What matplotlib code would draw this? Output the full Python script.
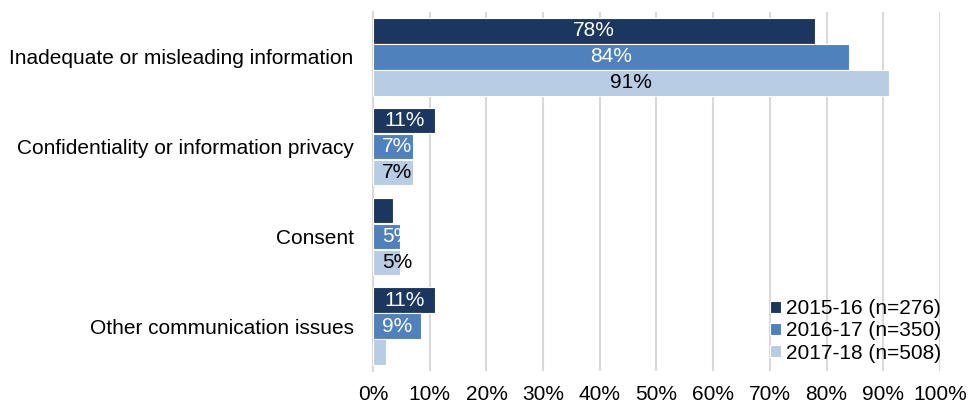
import numpy as np
import matplotlib.pyplot as plt

plt.rcParams['font.family'] = ['Liberation Sans', 'DejaVu Sans']

# Complaint categories and share of complaints per year (%)
categories = ["Inadequate or misleading information",
              "Confidentiality or information privacy",
              "Consent",
              "Other communication issues"]
series_names = ["2015-16 (n=276)", "2016-17 (n=350)", "2017-18 (n=508)"]
values_1516 = [78, 11, 3.5, 11]
values_1617 = [84, 7, 4.8, 8.5]
values_1718 = [91, 7, 4.8, 2.3]
# labels shown on the bars (None = no label)
labels_1516 = ["78%", "11%", None, "11%"]
labels_1617 = ["84%", "7%", "5%", "9%"]
labels_1718 = ["91%", "7%", "5%", None]

colors = ["#1b375f", "#4f81bd", "#b8cce4"]
text_colors = ["white", "white", "black"]
fs = 15

fig = plt.figure(figsize=(9.69, 4.04), dpi=100)
ax = fig.add_axes([0.385, 0.082, 0.585, 0.888])

y = np.arange(len(categories))
pitch = 0.29
height = 0.28
all_values = [values_1516, values_1617, values_1718]
all_labels = [labels_1516, labels_1617, labels_1718]

for i, (vals, labs) in enumerate(zip(all_values, all_labels)):
    pos = y + (i - 1) * pitch
    bars = ax.barh(pos, vals, height=height, color=colors[i],
                   edgecolor="white", linewidth=0.8, label=series_names[i],
                   zorder=3)
    for bar, v, lab in zip(bars, vals, labs):
        if lab is None:
            continue
        cx = max(v / 2, 4.2)
        t = ax.text(cx, bar.get_y() + bar.get_height() / 2, lab,
                    ha="center", va="center", fontsize=fs,
                    color=text_colors[i], zorder=4)
        if text_colors[i] == "white":
            t.set_clip_path(bar)

ax.set_xlim(0, 100)
ax.set_ylim(3.5, -0.5)
ax.set_xticks(np.arange(0, 101, 10))
ax.set_xticklabels([f"{v}%" for v in range(0, 101, 10)])
ax.set_yticks(y)
ax.set_yticklabels(categories)
ax.tick_params(axis="both", length=0, labelsize=fs, colors="black")
ax.tick_params(axis="x", pad=10)
ax.tick_params(axis="y", pad=14)
ax.xaxis.grid(True, color="#d9d9d9", linewidth=1.5, zorder=0)
ax.set_axisbelow(True)
for side in ["top", "right", "bottom"]:
    ax.spines[side].set_visible(False)
ax.spines["left"].set_color("#d9d9d9")
ax.spines["left"].set_linewidth(1.5)

ax.legend(loc="lower right", bbox_to_anchor=(1.017, 0.0), frameon=False,
          fontsize=fs, handlelength=0.5, handleheight=0.5,
          handletextpad=0.25, labelspacing=0.15, borderaxespad=0.0)

fig.savefig("out.png", dpi=100, facecolor="white")
